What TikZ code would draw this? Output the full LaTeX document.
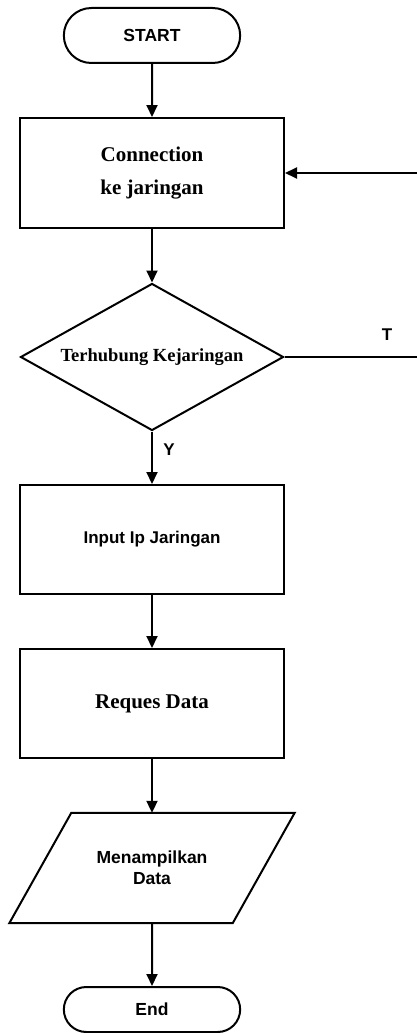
\documentclass[tikz,border=0pt]{standalone}
\usepackage{fontspec}
\setmainfont{Liberation Serif}
\setsansfont{Liberation Sans}
\usepackage{tikz}
\usetikzlibrary{calc,arrows.meta,positioning,shapes.geometric,shapes.misc}

\begin{document}
\begin{tikzpicture}[
    x=1pt, y=-1pt,
    every node/.style={font=\bfseries},
    flowline/.style={line width=2pt},
    flowarrow/.style={flowline, -{Triangle[length=12pt, width=11pt]}},
    terminal/.style={draw, line width=2pt, rounded rectangle, minimum width=183pt,
      font=\sffamily\bfseries\fontsize{17.5}{20}\selectfont},
    process/.style={draw, line width=2pt, rectangle, minimum width=264pt,
      minimum height=110pt, align=center},
    decision/.style={draw, line width=2pt, diamond, aspect=1.8, inner sep=0pt,
      minimum width=263pt, minimum height=147pt,
      font=\bfseries\fontsize{18.5}{21}\selectfont},
    iobox/.style={rectangle, minimum width=223pt, minimum height=110pt, align=center},
    branch/.style={font=\sffamily\bfseries\fontsize{17}{19}\selectfont},
  ]
    \pgfmathsetmacro{\axis}{152}
    \pgfmathsetmacro{\slant}{31}
    \useasboundingbox (0,0) rectangle (417,1033);
    \clip (0,0) rectangle (417,1033);

    % ---- nodes along the main flow ----
    \node[terminal, minimum height=55pt] (start) at (\axis,35.5) {START};
    \node[process, font=\bfseries\fontsize{21}{33}\selectfont] (conn) at (\axis,173)
      {Connection\\ke jaringan};
    \node[decision] (cek) at (\axis,357) {Terhubung Kejaringan};
    \node[process, minimum height=109pt, font=\sffamily\bfseries\fontsize{17}{19}\selectfont]
      (inputip) at (\axis,539.5) {Input Ip Jaringan};
    \node[process, minimum height=109pt, font=\bfseries\fontsize{21}{25}\selectfont]
      (reques) at (\axis,703.5) {Reques Data};
    \node[iobox, font=\sffamily\bfseries\fontsize{17.5}{21}\selectfont] (tampil) at (\axis,868)
      {Menampilkan\\Data};
    \node[terminal, minimum height=45pt] (stop) at (\axis,1009.5) {End};

    % parallelogram outline round the output node
    \draw[flowline, line join=miter]
      ($(tampil.north west)+(\slant,0)$) -- ($(tampil.north east)+(\slant,0)$)
      -- ($(tampil.south east)+(-\slant,0)$) -- ($(tampil.south west)+(-\slant,0)$)
      -- cycle;

    % ---- branch labels ----
    \node[branch] (lbly) at (169,450) {Y};
    \node[branch] (lblt) at (387,335) {T};

    % ---- connectors ----
    \draw[flowarrow] (start) -- (conn);
    \draw[flowarrow] (conn) -- (cek);
    \draw[flowarrow] (cek) -- (inputip);
    \draw[flowarrow] (inputip) -- (reques);
    \draw[flowarrow] (reques) -- (tampil);
    \draw[flowarrow] (tampil) -- (stop);

    % loop back when not connected (turns outside the frame)
    \coordinate (loopturn) at (430,357);
    \draw[flowarrow] (cek.east) -- (loopturn) |- (conn.east);
  \end{tikzpicture}
\end{document}
